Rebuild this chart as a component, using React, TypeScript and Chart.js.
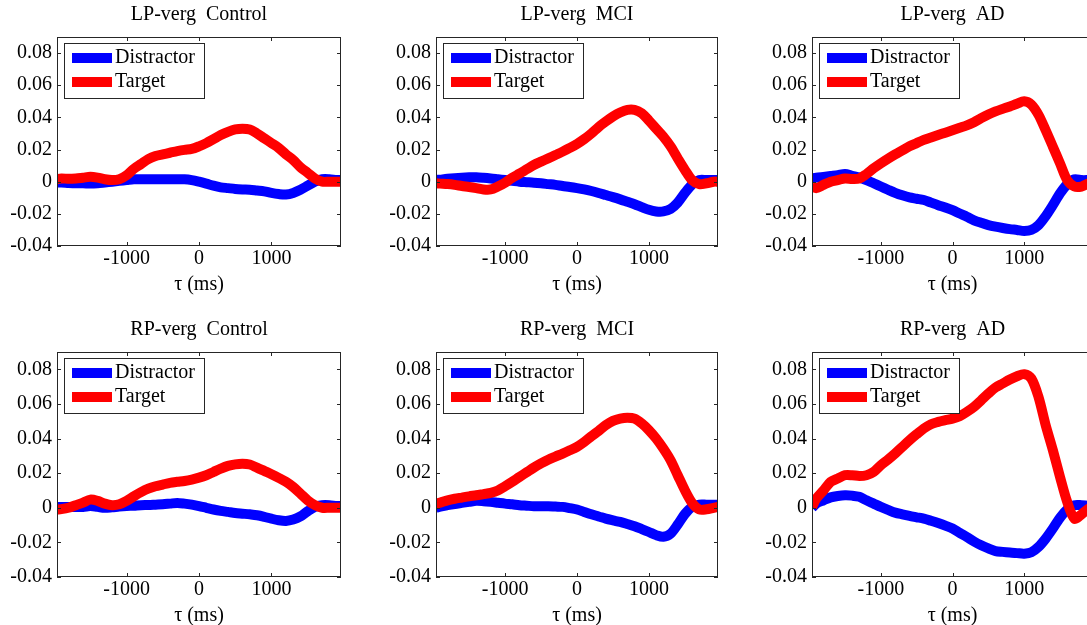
import React, { useEffect, useRef } from 'react';
import { Chart, registerables } from 'chart.js';

Chart.register(...registerables);

// lag axis (ms)
const tau = [-1960, -1900, -1800, -1700, -1600, -1500, -1400, -1300, -1200, -1100, -1000, -900, -800, -700, -600, -500, -400, -300, -200, -100, 0, 100, 200, 300, 400, 500, 600, 700, 800, 900, 1000, 1100, 1200, 1300, 1400, 1500, 1600, 1700, 1800, 1900, 1960];

const lpControlDistractor = [-0.0005, -0.0005, -0.0008, -0.001, -0.001, -0.0012, -0.001, -0.0005, 0, 0.0005, 0.001, 0.0015, 0.0015, 0.0015, 0.0015, 0.0015, 0.0015, 0.0015, 0.0015, 0.001, 0, -0.0012, -0.0025, -0.0035, -0.004, -0.0045, -0.0048, -0.005, -0.0055, -0.006, -0.007, -0.0077, -0.008, -0.007, -0.005, -0.0025, 0, 0.0015, 0.0015, 0.001, 0.001];
const lpControlTarget = [0.0015, 0.002, 0.0018, 0.002, 0.0025, 0.003, 0.0025, 0.0015, 0.001, 0.0015, 0.004, 0.008, 0.011, 0.014, 0.016, 0.017, 0.018, 0.019, 0.0198, 0.0204, 0.022, 0.024, 0.0265, 0.029, 0.031, 0.0325, 0.033, 0.0325, 0.03, 0.027, 0.024, 0.021, 0.017, 0.0135, 0.009, 0.0055, 0.002, 0, 0, 0, 0];

const lpMciDistractor = [0.001, 0.0013, 0.0018, 0.0022, 0.0025, 0.0027, 0.0027, 0.0024, 0.002, 0.0015, 0.001, 0.0005, 0, -0.0003, -0.0006, -0.001, -0.0015, -0.002, -0.0027, -0.0033, -0.004, -0.0048, -0.0058, -0.007, -0.0083, -0.0096, -0.011, -0.0125, -0.014, -0.0158, -0.0175, -0.0185, -0.0185, -0.017, -0.013, -0.007, -0.0017, 0.001, 0.001, 0.001, 0.001];
const lpMciTarget = [-0.001, -0.0012, -0.0015, -0.002, -0.0027, -0.0033, -0.004, -0.0048, -0.0048, -0.003, -0.0006, 0.0025, 0.005, 0.0077, 0.0104, 0.0125, 0.0145, 0.0166, 0.0187, 0.021, 0.0235, 0.0265, 0.03, 0.034, 0.0374, 0.0405, 0.043, 0.0447, 0.0447, 0.0426, 0.038, 0.033, 0.028, 0.022, 0.0145, 0.0073, 0.001, -0.0015, -0.001, 0, 0];

const lpAdDistractor = [0.002, 0.0025, 0.003, 0.0035, 0.004, 0.0048, 0.0037, 0.0027, 0.001, -0.001, -0.003, -0.005, -0.0069, -0.0085, -0.0098, -0.0106, -0.0114, -0.013, -0.0146, -0.016, -0.0177, -0.0198, -0.0218, -0.024, -0.0256, -0.027, -0.028, -0.0288, -0.0295, -0.03, -0.0306, -0.03, -0.027, -0.0214, -0.0146, -0.0073, -0.0017, 0.0015, 0.001, 0.001, 0.001];
const lpAdTarget = [-0.003, -0.004, -0.002, 0, 0.001, 0.002, 0.0017, 0.002, 0.0048, 0.0083, 0.0114, 0.0143, 0.017, 0.0195, 0.022, 0.024, 0.026, 0.0275, 0.029, 0.0305, 0.032, 0.0335, 0.035, 0.037, 0.0395, 0.0418, 0.0437, 0.0453, 0.0468, 0.0485, 0.05, 0.048, 0.0416, 0.032, 0.0218, 0.0114, 0.001, -0.003, -0.003, -0.001, 0];

const rpControlDistractor = [0.0005, 0.0005, 0.0005, 0.0005, 0.0005, 0.001, 0.0005, 0, 0.0003, 0.0007, 0.001, 0.0012, 0.0015, 0.0016, 0.0018, 0.002, 0.0024, 0.0028, 0.0024, 0.0018, 0.001, 0, -0.001, -0.0018, -0.0024, -0.003, -0.0034, -0.0038, -0.0043, -0.0052, -0.0063, -0.0072, -0.0076, -0.0068, -0.005, -0.002, 0.0005, 0.0015, 0.0015, 0.001, 0.001];
const rpControlTarget = [-0.001, -0.0008, 0, 0.0015, 0.003, 0.0047, 0.004, 0.0024, 0.0015, 0.002, 0.004, 0.0066, 0.009, 0.011, 0.0124, 0.0134, 0.0144, 0.015, 0.0155, 0.0163, 0.0174, 0.0188, 0.0207, 0.0226, 0.0242, 0.0251, 0.0255, 0.025, 0.0232, 0.0213, 0.0194, 0.0173, 0.015, 0.012, 0.0082, 0.0043, 0.0015, 0, 0, 0, 0];

const rpMciDistractor = [0, 0.0007, 0.0015, 0.0022, 0.0028, 0.0034, 0.004, 0.0038, 0.0034, 0.0029, 0.0024, 0.002, 0.0015, 0.0012, 0.0009, 0.0009, 0.0009, 0.0007, 0.0005, -0.0002, -0.001, -0.0024, -0.0038, -0.005, -0.0063, -0.0073, -0.0082, -0.0094, -0.0107, -0.0123, -0.014, -0.0158, -0.0168, -0.015, -0.0097, -0.0036, 0.0005, 0.0018, 0.0018, 0.0018, 0.0018];
const rpMciTarget = [0.0024, 0.003, 0.0043, 0.0052, 0.0059, 0.0066, 0.0072, 0.0079, 0.0086, 0.01, 0.0124, 0.015, 0.0178, 0.0205, 0.0232, 0.0256, 0.0278, 0.0296, 0.0313, 0.0332, 0.0352, 0.038, 0.0413, 0.0444, 0.0477, 0.0502, 0.0515, 0.052, 0.0515, 0.0487, 0.0448, 0.04, 0.0342, 0.0275, 0.0188, 0.0101, 0.0028, -0.001, -0.0009, 0, 0.0005];

const rpAdDistractor = [0, 0.0025, 0.0043, 0.006, 0.0068, 0.0072, 0.007, 0.0063, 0.0043, 0.0024, 0.0005, -0.0012, -0.0028, -0.0038, -0.0047, -0.0055, -0.0063, -0.0075, -0.0088, -0.0103, -0.012, -0.0145, -0.0169, -0.0195, -0.0217, -0.0235, -0.025, -0.0255, -0.0259, -0.0262, -0.0265, -0.0257, -0.0226, -0.0178, -0.012, -0.0057, -0.001, 0.0015, 0.0015, 0.0012, 0.0012];
const rpAdTarget = [0.0005, 0.0053, 0.01, 0.015, 0.0169, 0.0188, 0.0188, 0.0184, 0.0188, 0.0207, 0.0246, 0.0278, 0.0313, 0.0352, 0.039, 0.0425, 0.0458, 0.0483, 0.0496, 0.0506, 0.0515, 0.0529, 0.0554, 0.0583, 0.0621, 0.066, 0.0695, 0.0718, 0.0741, 0.076, 0.0772, 0.0747, 0.064, 0.0477, 0.0333, 0.0178, 0.0034, -0.0063, -0.0038, -0.0005, 0];

const yTicks = [-0.04, -0.02, 0, 0.02, 0.04, 0.06, 0.08];
const xTicks = [-1000, 0, 1000];
const seriesLabels = ['Distractor', 'Target'];
const seriesColors = ['#0000FF', '#FF0000'];
const panelTitles = ['LP-verg  Control', 'LP-verg  MCI', 'LP-verg  AD', 'RP-verg  Control', 'RP-verg  MCI', 'RP-verg  AD'];
const panelSeries = [
  [lpControlDistractor, lpControlTarget],
  [lpMciDistractor, lpMciTarget],
  [lpAdDistractor, lpAdTarget],
  [rpControlDistractor, rpControlTarget],
  [rpMciDistractor, rpMciTarget],
  [rpAdDistractor, rpAdTarget],
];

// layout of the plot areas (pixels)
const plotLefts = [57, 436, 812];
const plotWidths = [284, 282, 281];
const plotTops = [37, 352];
const plotHeights = [209, 225];

const FONT = '"Liberation Serif", "Times New Roman", serif';
const Y_AXIS_W = 57;
const TITLE_H = 37;
const X_AXIS_H = 51;
const RIGHT_PAD = 10;

const matlabPlugin = {
  id: 'matlabFrame',
  afterDatasetsDraw(chart: any) {
    const { ctx, chartArea: a, scales } = chart;
    ctx.save();
    ctx.strokeStyle = '#262626';
    ctx.lineWidth = 1;
    ctx.beginPath();
    const tl = 4;
    for (const t of scales.x.ticks) {
      const px = Math.round(scales.x.getPixelForValue(t.value)) + 0.5;
      ctx.moveTo(px, a.bottom);
      ctx.lineTo(px, a.bottom - tl);
      ctx.moveTo(px, a.top);
      ctx.lineTo(px, a.top + tl);
    }
    for (const t of scales.y.ticks) {
      const py = Math.round(scales.y.getPixelForValue(t.value)) + 0.5;
      ctx.moveTo(a.left, py);
      ctx.lineTo(a.left + tl, py);
      ctx.moveTo(a.right, py);
      ctx.lineTo(a.right - tl, py);
    }
    ctx.stroke();
    ctx.strokeRect(Math.round(a.left) + 0.5, Math.round(a.top) + 0.5, Math.round(a.right - a.left) - 1, Math.round(a.bottom - a.top) - 1);

    // legend box inside the axes
    const bx = Math.round(a.left) + 7;
    const by = Math.round(a.top) + 6;
    ctx.fillStyle = '#ffffff';
    ctx.fillRect(bx, by, 140, 55);
    ctx.strokeRect(bx + 0.5, by + 0.5, 140, 55);
    chart.data.datasets.forEach((ds: any, i: number) => {
      const ly = by + 15 + i * 24;
      ctx.strokeStyle = ds.borderColor;
      ctx.lineWidth = 10;
      ctx.lineCap = 'butt';
      ctx.beginPath();
      ctx.moveTo(bx + 8, ly);
      ctx.lineTo(bx + 48, ly);
      ctx.stroke();
      ctx.fillStyle = '#000';
      ctx.font = `20px ${FONT}`;
      ctx.textBaseline = 'middle';
      ctx.textAlign = 'left';
      ctx.fillText(ds.label, bx + 51, ly);
    });
    ctx.restore();
  },
};

function Panel({ index }: { index: number }) {
  const ref = useRef<HTMLCanvasElement>(null);
  const col = index % 3;
  const row = Math.floor(index / 3);
  const width = Y_AXIS_W + plotWidths[col] + RIGHT_PAD;
  const height = TITLE_H + plotHeights[row] + X_AXIS_H;
  const left = plotLefts[col] - Y_AXIS_W;
  const top = plotTops[row] - TITLE_H;

  useEffect(() => {
    if (!ref.current) return;
    const datasets = panelSeries[index].map((vals, i) => ({
      label: seriesLabels[i],
      data: tau.map((x, k) => ({ x, y: vals[k] })),
      borderColor: seriesColors[i],
      backgroundColor: seriesColors[i],
      borderWidth: 10,
      pointRadius: 0,
      tension: 0.3,
      fill: false,
      clip: 0,
      order: seriesLabels.length - i,
      borderJoinStyle: 'round' as const,
    }));
    const chart = new Chart(ref.current, {
      type: 'line',
      data: { datasets },
      plugins: [matlabPlugin],
      options: {
        animation: false,
        responsive: false,
        maintainAspectRatio: false,
        devicePixelRatio: 1,
        layout: { padding: { left: 0, right: RIGHT_PAD, top: 0, bottom: 0 } },
        plugins: {
          legend: { display: false },
          tooltip: { enabled: false },
          title: {
            display: true,
            text: panelTitles[index],
            fullSize: false,
            color: '#000',
            font: { family: FONT, size: 20, weight: 'normal', lineHeight: 1.2 },
            padding: { top: 3, bottom: 10 },
          },
        },
        scales: {
          x: {
            type: 'linear',
            min: -1960,
            max: 1960,
            grid: { display: false, drawTicks: false },
            border: { display: false },
            afterBuildTicks: (s: any) => {
              s.ticks = xTicks.map((v) => ({ value: v }));
            },
            afterFit: (s: any) => {
              s.height = X_AXIS_H;
            },
            ticks: {
              color: '#000',
              padding: 1,
              maxRotation: 0,
              autoSkip: false,
              font: { family: FONT, size: 20, lineHeight: 1.2 },
              callback: (v: any) => String(v),
            },
            title: {
              display: true,
              text: 'τ (ms)',
              color: '#000',
              padding: { top: 0, bottom: 0 },
              font: { family: FONT, size: 20, lineHeight: 1.2 },
            },
          },
          y: {
            type: 'linear',
            min: -0.04,
            max: 0.09,
            grid: { display: false, drawTicks: false },
            border: { display: false },
            afterBuildTicks: (s: any) => {
              s.ticks = yTicks.map((v) => ({ value: v }));
            },
            afterFit: (s: any) => {
              s.width = Y_AXIS_W;
            },
            ticks: {
              color: '#000',
              padding: 5,
              autoSkip: false,
              font: { family: FONT, size: 20, lineHeight: 1.2 },
              callback: (v: any) => (Number(v) === 0 ? '0' : Number(v).toFixed(2)),
            },
          },
        },
      },
    });
    return () => chart.destroy();
  }, [index]);

  return (
    <canvas
      ref={ref}
      width={width}
      height={height}
      style={{ position: 'absolute', left, top, width, height }}
    />
  );
}

export default function App() {
  return (
    <div
      style={{
        position: 'fixed',
        left: 0,
        top: 0,
        width: 1087,
        height: 625,
        overflow: 'hidden',
        background: '#fff',
      }}
    >
      {panelTitles.map((_, i) => (
        <Panel key={i} index={i} />
      ))}
    </div>
  );
}
